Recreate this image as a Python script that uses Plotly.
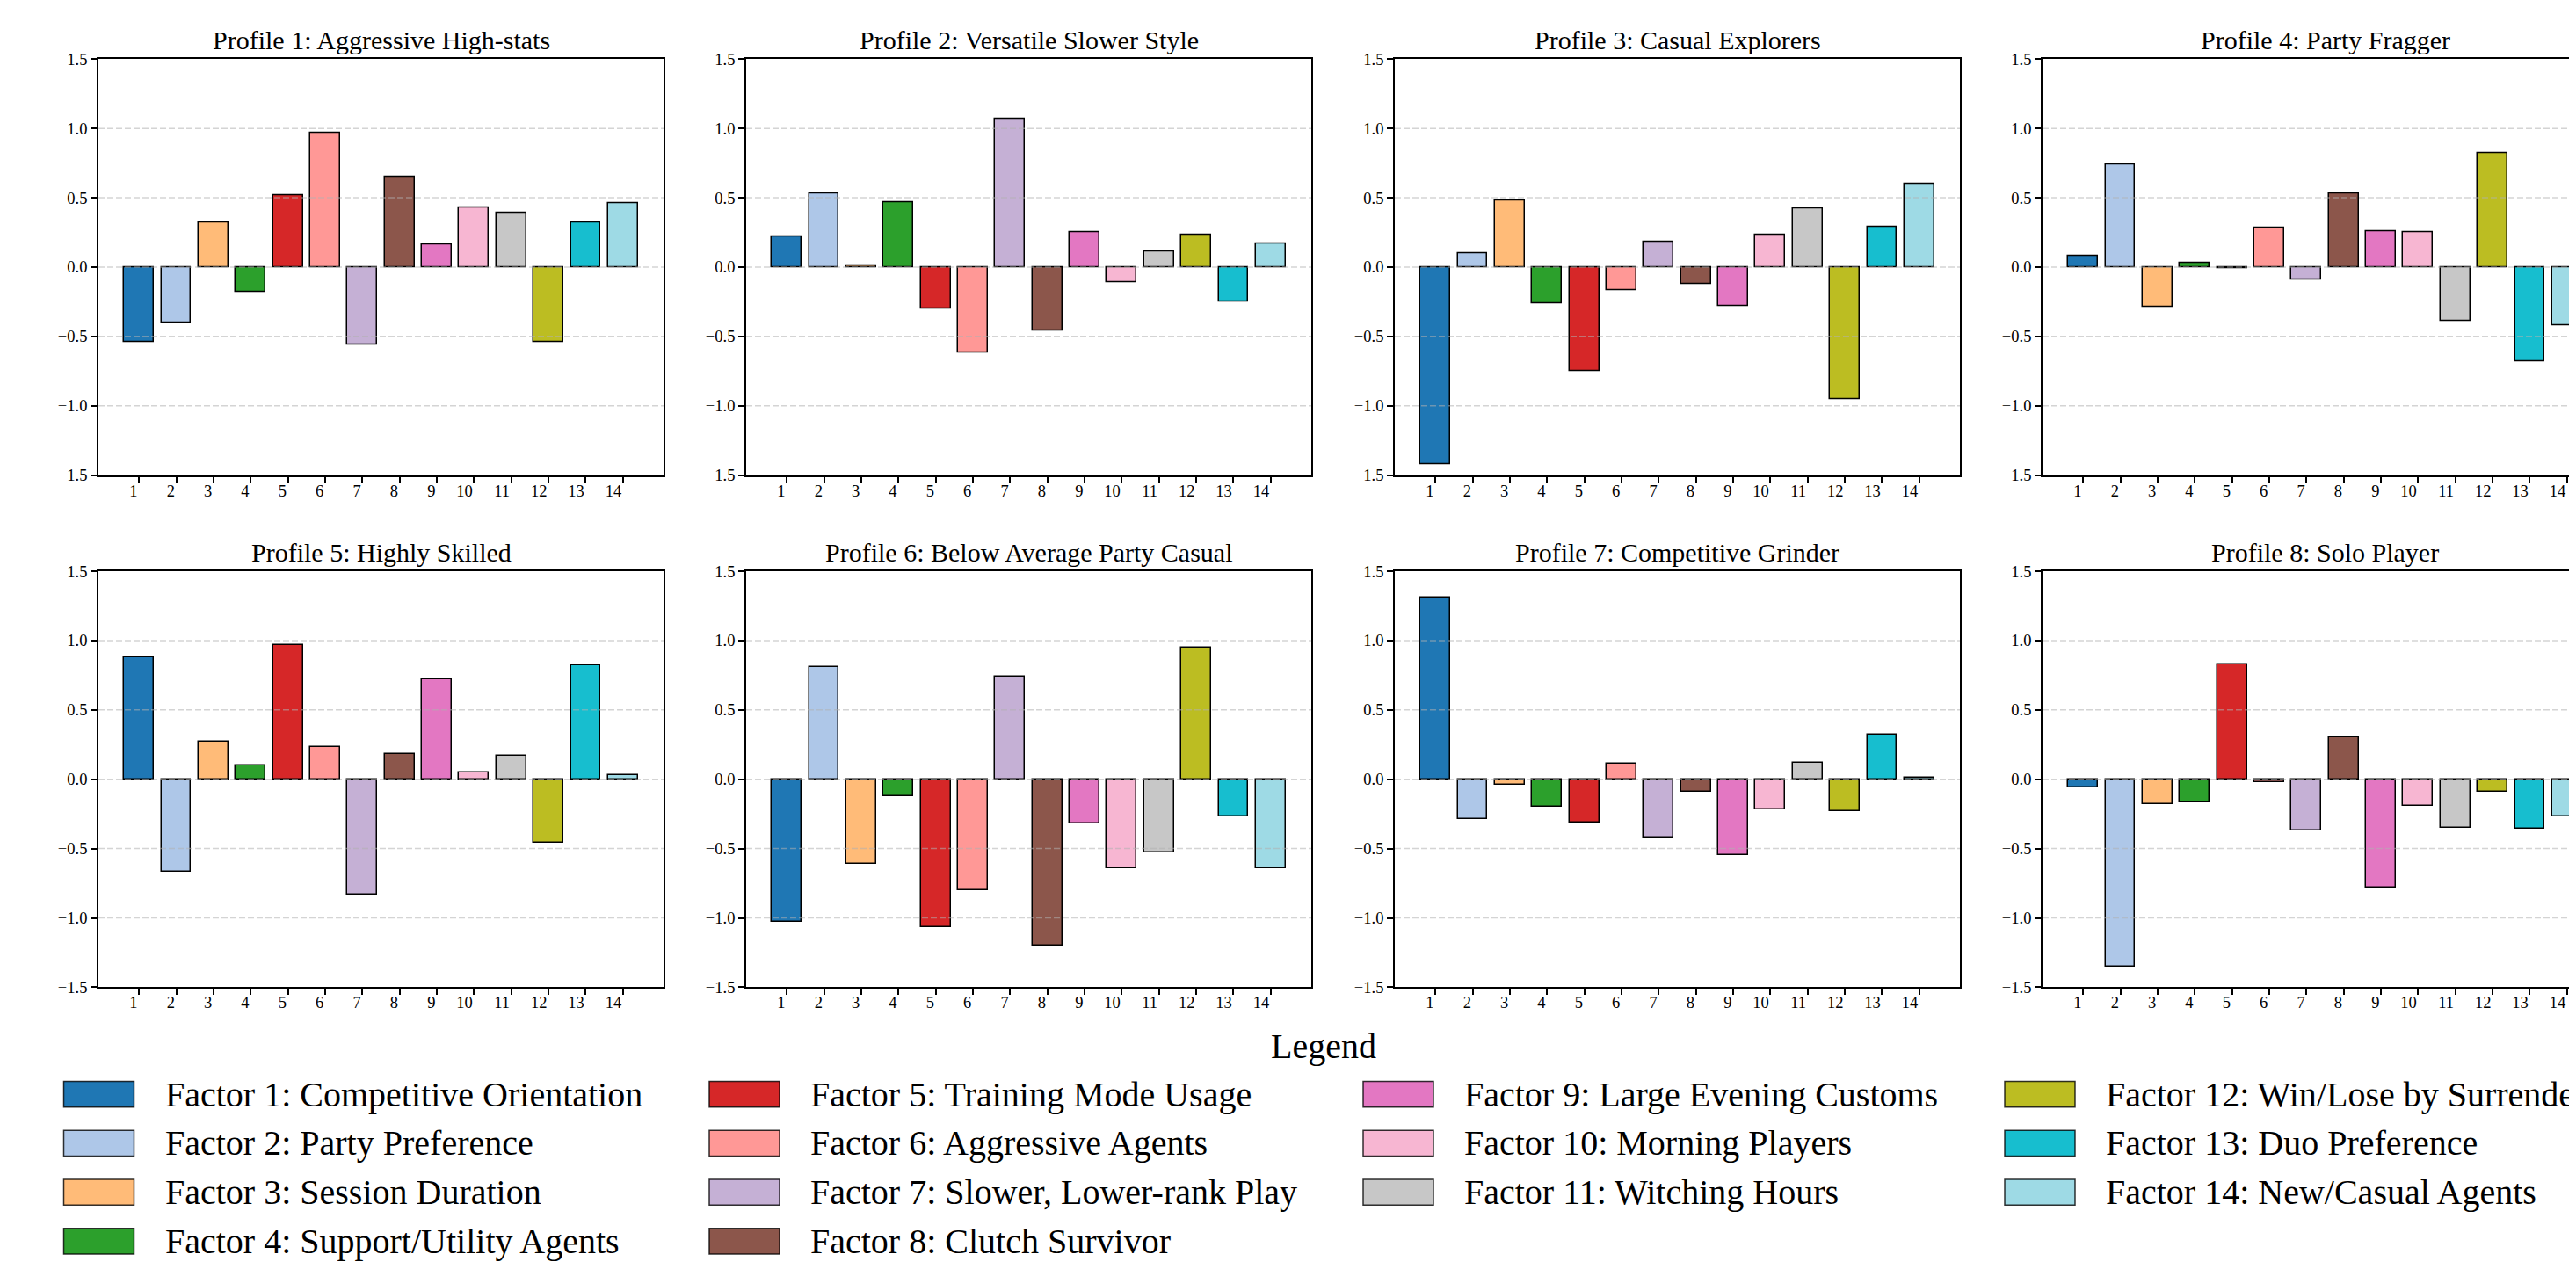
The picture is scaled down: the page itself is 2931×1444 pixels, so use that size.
import plotly.graph_objects as go
from plotly.subplots import make_subplots

# ---------------- data ----------------
profile_titles = [
    "Profile 1: Aggressive High-stats",
    "Profile 2: Versatile Slower Style",
    "Profile 3: Casual Explorers",
    "Profile 4: Party Fragger",
    "Profile 5: Highly Skilled",
    "Profile 6: Below Average Party Casual",
    "Profile 7: Competitive Grinder",
    "Profile 8: Solo Player",
]

factor_names = [
    "Factor 1: Competitive Orientation",
    "Factor 2: Party Preference",
    "Factor 3: Session Duration",
    "Factor 4: Support/Utility Agents",
    "Factor 5: Training Mode Usage",
    "Factor 6: Aggressive Agents",
    "Factor 7: Slower, Lower-rank Play",
    "Factor 8: Clutch Survivor",
    "Factor 9: Large Evening Customs",
    "Factor 10: Morning Players",
    "Factor 11: Witching Hours",
    "Factor 12: Win/Lose by Surrender",
    "Factor 13: Duo Preference",
    "Factor 14: New/Casual Agents",
]

factor_ids = list(range(1, 15))
x_tick_labels = [str(i) for i in factor_ids]

y_tick_vals = [-1.5, -1.0, -0.5, 0.0, 0.5, 1.0, 1.5]
y_tick_labels = ["\u22121.5", "\u22121.0", "\u22120.5", "0.0", "0.5", "1.0", "1.5"]
grid_vals = [-1.0, -0.5, 0.0, 0.5, 1.0]

profile1 = [-0.54, -0.40, 0.32, -0.18, 0.52, 0.97, -0.56, 0.65, 0.16, 0.43, 0.39, -0.54, 0.32, 0.46]
profile2 = [0.22, 0.53, 0.01, 0.47, -0.30, -0.62, 1.07, -0.46, 0.25, -0.11, 0.11, 0.23, -0.25, 0.17]
profile3 = [-1.42, 0.10, 0.48, -0.26, -0.75, -0.17, 0.18, -0.12, -0.28, 0.23, 0.42, -0.95, 0.29, 0.60]
profile4 = [0.08, 0.74, -0.29, 0.03, -0.01, 0.28, -0.09, 0.53, 0.26, 0.25, -0.39, 0.82, -0.68, -0.42]
profile5 = [0.88, -0.67, 0.27, 0.10, 0.97, 0.23, -0.83, 0.18, 0.72, 0.05, 0.17, -0.46, 0.82, 0.03]
profile6 = [-1.03, 0.81, -0.61, -0.12, -1.07, -0.80, 0.74, -1.20, -0.32, -0.64, -0.53, 0.95, -0.27, -0.64]
profile7 = [1.31, -0.29, -0.04, -0.20, -0.31, 0.11, -0.42, -0.09, -0.55, -0.22, 0.12, -0.23, 0.32, 0.01]
profile8 = [-0.06, -1.35, -0.18, -0.17, 0.83, -0.02, -0.37, 0.30, -0.78, -0.19, -0.35, -0.09, -0.36, -0.27]

profiles = [profile1, profile2, profile3, profile4, profile5, profile6, profile7, profile8]

colors = [
    "#1f77b4", "#aec7e8", "#ffbb78", "#2ca02c", "#d62728", "#ff9896", "#c5b0d5",
    "#8c564b", "#e377c2", "#f7b6d2", "#c7c7c7", "#bcbd22", "#17becf", "#9edae5",
]

# ---------------- layout geometry (window pixels) ----------------
WIN_W, WIN_H = 2931, 1444
OFF = 8  # default page margin around the plot div
W, H = WIN_W - OFF, WIN_H - OFF
FONT = "Liberation Serif, Times New Roman, serif"
col_left = [112, 849, 1587, 2324]
ax_w = 643
row_top = [58, 649]
ax_h = 480
x_lo, x_hi = -0.09, 15.09
unit = ax_w / (x_hi - x_lo)
TICK_SIZE = 18.5


def fx(px):
    return (px - OFF) / W


def fy(py):
    return 1 - (py - OFF) / H


fig = make_subplots(rows=2, cols=4)

for k, vals in enumerate(profiles):
    r, c = divmod(k, 4)
    fig.add_trace(
        go.Bar(
            x=factor_ids,
            y=vals,
            width=0.8,
            marker=dict(color=colors, line=dict(color="black", width=1.5)),
            showlegend=False,
        ),
        row=r + 1,
        col=c + 1,
    )

shapes = []
annotations = []
for k in range(8):
    r, c = divmod(k, 4)
    idx = k + 1
    left = col_left[c]
    right = min(left + ax_w, WIN_W)
    xr_hi = x_lo + (right - left) / unit
    top = row_top[r]
    bottom = top + ax_h
    xa = "xaxis" if idx == 1 else f"xaxis{idx}"
    ya = "yaxis" if idx == 1 else f"yaxis{idx}"
    fig.layout[xa].update(
        domain=[fx(left), min(fx(right), 1.0)],
        range=[x_lo, xr_hi],
        tickmode="array",
        tickvals=factor_ids,
        ticktext=x_tick_labels,
        ticks="outside",
        ticklen=7,
        tickwidth=1.5,
        tickcolor="black",
        ticklabelposition="outside left",
        showline=True,
        linecolor="black",
        linewidth=1.8,
        mirror=True,
        showgrid=False,
        zeroline=False,
        tickfont=dict(family=FONT, size=TICK_SIZE, color="black"),
    )
    fig.layout[ya].update(
        domain=[fy(bottom), fy(top)],
        range=[-1.5, 1.5],
        tickmode="array",
        tickvals=y_tick_vals,
        ticktext=y_tick_labels,
        ticks="outside",
        ticklen=7,
        tickwidth=1.5,
        tickcolor="black",
        showline=True,
        linecolor="black",
        linewidth=1.8,
        mirror=(c < 3),
        showgrid=False,
        zeroline=False,
        tickfont=dict(family=FONT, size=TICK_SIZE, color="black"),
    )
    xref = "x" if idx == 1 else f"x{idx}"
    yref = "y" if idx == 1 else f"y{idx}"
    for g in grid_vals:
        shapes.append(
            dict(
                type="line",
                xref=f"{xref} domain",
                yref=yref,
                x0=0,
                x1=1,
                y0=g,
                y1=g,
                layer="above",
                line=dict(color="rgba(176,176,176,0.55)", width=1.5, dash="7px,3px"),
            )
        )
    annotations.append(
        dict(
            text=profile_titles[k],
            xref="paper",
            yref="paper",
            x=fx(left + ax_w / 2),
            y=fy(top - 22),
            xanchor="center",
            yanchor="middle",
            showarrow=False,
            font=dict(family=FONT, size=30, color="black"),
        )
    )

# ---------------- legend (manual, 4 columns, column-major) ----------------
leg_cols_x = [72.5, 807, 1551, 2281]
leg_rows_y = [1252.5, 1309, 1365.5, 1422]
col_counts = [4, 4, 3, 3]
sw_w, sw_h = 80, 29.6
text_dx = 113
i = 0
for ci, cnt in enumerate(col_counts):
    for ri in range(cnt):
        sx = leg_cols_x[ci]
        sy = leg_rows_y[ri]
        shapes.append(
            dict(
                type="rect",
                xref="paper",
                yref="paper",
                x0=fx(sx),
                x1=fx(sx + sw_w),
                y0=fy(sy + sw_h / 2),
                y1=fy(sy - sw_h / 2),
                fillcolor=colors[i],
                line=dict(color="rgba(0,0,0,0.8)", width=1.5),
                layer="above",
            )
        )
        annotations.append(
            dict(
                text=factor_names[i],
                xref="paper",
                yref="paper",
                x=fx(sx + text_dx),
                y=fy(sy),
                xanchor="left",
                yanchor="middle",
                showarrow=False,
                font=dict(family=FONT, size=40, color="black"),
            )
        )
        i += 1

annotations.append(
    dict(
        text="Legend",
        xref="paper",
        yref="paper",
        x=fx(1506.5),
        y=fy(1197),
        xanchor="center",
        yanchor="middle",
        showarrow=False,
        font=dict(family=FONT, size=40, color="black"),
    )
)

fig.update_layout(
    width=W,
    height=H,
    margin=dict(l=0, r=0, t=0, b=0),
    paper_bgcolor="white",
    plot_bgcolor="white",
    shapes=shapes,
    annotations=annotations,
    showlegend=False,
    font=dict(family=FONT, color="black"),
    bargap=0,
)

fig.write_html("out.html")
